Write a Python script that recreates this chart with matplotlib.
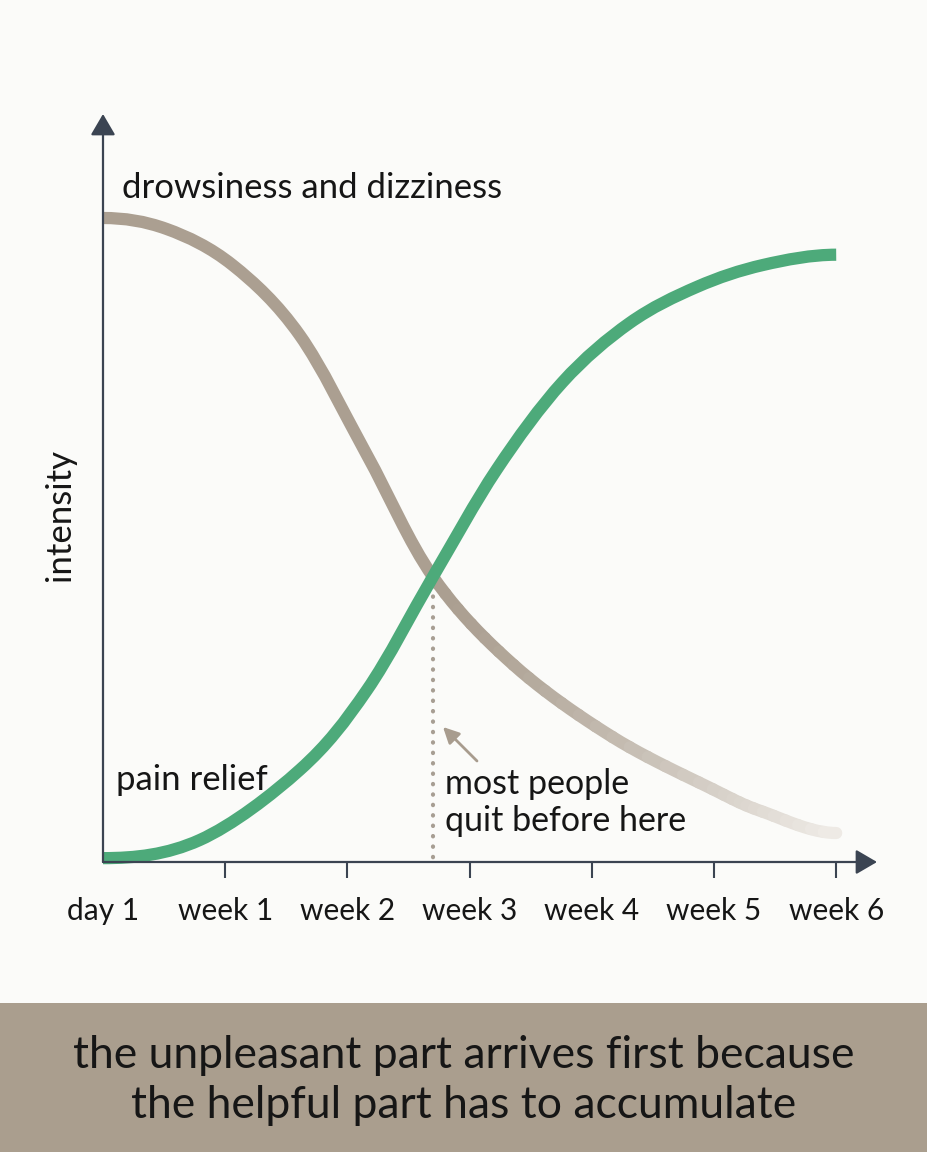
import numpy as np
import matplotlib
matplotlib.use("Agg")
import matplotlib.pyplot as plt
from matplotlib.colors import to_rgb
from matplotlib.patches import Rectangle, PathPatch
from matplotlib.path import Path

plt.rcParams['font.family'] = ['Lato', 'DejaVu Sans']

# ---- data ----
tick_labels = ['day 1', 'week 1', 'week 2', 'week 3', 'week 4', 'week 5', 'week 6']

drowsy_t = [0, 0.52, 1.06, 1.61, 2.16, 2.70, 3.36, 4.17, 4.99, 5.40, 6.0]
drowsy_v = [100, 98.3, 92.7, 81.8, 63.2, 44.3, 30.6, 19.4, 11.3, 7.8, 4.5]

relief_t = [0, 0.79, 1.61, 2.16, 2.70, 3.22, 3.76, 4.31, 4.86, 5.40, 6.0]
relief_v = [0.6, 3.4, 14.3, 26.7, 44.3, 60.9, 74.5, 83.7, 89.3, 92.7, 94.3]

quit_t = 2.70          # where the curves cross
quit_v = 44.3

# ---- style ----
BG = '#FBFBF9'
AXC = '#3B4452'
TAN = '#AB9F91'
FADE = '#EFECE7'
GREEN = '#4DAA7A'
TXT = '#161616'
BAND = '#AA9E8E'
LW = 8.8


def bezier_segments(xs, ys):
    """catmull-rom through the points, flat at both ends"""
    P = np.column_stack([xs, ys]).astype(float)
    n = len(P)
    out = []
    for i in range(n - 1):
        if i == 0:
            c1 = P[0] + np.array([(P[1][0] - P[0][0]) / 3, 0])
        else:
            c1 = P[i] + (P[i + 1] - P[i - 1]) / 6
        if i + 2 >= n:
            c2 = P[i + 1] - np.array([(P[i + 1][0] - P[i][0]) / 3, 0])
        else:
            c2 = P[i + 1] - (P[i + 2] - P[i]) / 6
        out.append((P[i], c1, c2, P[i + 1]))
    return out


def split(seg, t):
    p0, p1, p2, p3 = seg
    a, b, c = p0 + (p1 - p0) * t, p1 + (p2 - p1) * t, p2 + (p3 - p2) * t
    d, e = a + (b - a) * t, b + (c - b) * t
    m = d + (e - d) * t
    return (p0, a, d, m), (m, e, c, p3)


def sub(seg, a, b):
    if a > 0:
        seg = split(seg, a)[1]
    tb = (b - a) / (1 - a)
    if tb < 1:
        seg = split(seg, tb)[0]
    return seg


def smooth_path(segs):
    verts = [segs[0][0]]
    codes = [Path.MOVETO]
    for s in segs:
        verts += [s[1], s[2], s[3]]
        codes += [Path.CURVE4] * 3
    return Path(verts, codes)


fig = plt.figure(figsize=(9.28, 11.52), dpi=100)
fig.patch.set_facecolor(BG)

# axes placed in pixel terms: origin at (103, 862)
XS, YS = 122.2, 6.44   # px per week, px per intensity unit
ax = fig.add_axes([103 / 928, (1152 - 862) / 1152, (880 - 103) / 928, (862 - 110) / 1152])
ax.set_facecolor(BG)
ax.set_xlim(0, (880 - 103) / XS)
ax.set_ylim(0, (862 - 110) / YS)
for s in ax.spines.values():
    s.set_visible(False)
ax.set_yticks([])
ax.set_xticks(range(len(tick_labels)))
ax.set_xticklabels(tick_labels)
ax.tick_params(axis='x', direction='out', length=11.5, width=1.5, color=AXC,
               labelsize=21.5, labelcolor=TXT, pad=14)
ax.xaxis.get_major_ticks()[0].tick1line.set_visible(False)

# dotted marker under the crossing
ax.plot([quit_t, quit_t], [quit_v - 1.5, 0], color='#A79E93', lw=3,
        ls=(0, (0.1, 2.4)), dash_capstyle='round', zorder=1)

# drowsiness: solid first, fading afterwards
dsegs = bezier_segments(drowsy_t, drowsy_v)
k = drowsy_t.index(quit_t)
ax.add_patch(PathPatch(smooth_path(dsegs[:k]), fill=False, edgecolor=TAN, lw=LW,
                       capstyle='butt', joinstyle='round', clip_on=False, zorder=2))
c0, c1 = np.array(to_rgb(TAN)), np.array(to_rgb(FADE))
steps = np.linspace(0, 1, 7)
for seg in dsegs[k:]:
    for a, b in zip(steps[:-1], steps[1:]):
        piece = sub(seg, a, b)
        f = ((piece[0][0] + piece[3][0]) / 2 - 2.9) / (6.0 - 2.9)
        f = min(max(f, 0), 1) ** 1.2
        ax.add_patch(PathPatch(smooth_path([piece]), fill=False,
                               edgecolor=c0 + (c1 - c0) * f, lw=LW, capstyle='round',
                               clip_on=False, zorder=2))

# pain relief
ax.add_patch(PathPatch(smooth_path(bezier_segments(relief_t, relief_v)), fill=False,
                       edgecolor=GREEN, lw=LW, capstyle='butt', joinstyle='round',
                       clip_on=False, zorder=3))

# axes with arrow heads
arr = dict(arrowstyle='-|>,head_length=0.65,head_width=0.38', color=AXC, lw=1.6,
           shrinkA=0, shrinkB=0, mutation_scale=20)
ax.annotate('', xy=((877 - 103) / XS, 0), xytext=(0, 0), arrowprops=arr,
            annotation_clip=False, zorder=5)
ax.annotate('', xy=(0, (862 - 114) / YS), xytext=(0, 0), arrowprops=arr,
            annotation_clip=False, zorder=5)

# labels
ax.text((122 - 103) / XS, (862 - 198) / YS, 'drowsiness and dizziness', fontsize=25,
        color=TXT, ha='left', va='baseline')
ax.text((116 - 103) / XS, (862 - 790) / YS, 'pain relief', fontsize=25,
        color=TXT, ha='left', va='baseline')
ax.text((60 - 103) / XS, (862 - 515) / YS, 'intensity', fontsize=25, color=TXT,
        rotation=90, ha='center', va='center', clip_on=False)
ax.text((445 - 103) / XS, (862 - 794) / YS, 'most people', fontsize=24.5,
        color=TXT, ha='left', va='baseline')
ax.text((445 - 103) / XS, (862 - 831) / YS, 'quit before here', fontsize=24.5,
        color=TXT, ha='left', va='baseline')
ax.annotate('', xy=((443 - 103) / XS, (862 - 727) / YS),
            xytext=((477 - 103) / XS, (862 - 761) / YS),
            arrowprops=dict(arrowstyle='-|>,head_length=0.6,head_width=0.3',
                            color='#A89C8E', lw=2, shrinkA=0, shrinkB=0,
                            mutation_scale=16), zorder=4)

# bottom band
fig.add_artist(Rectangle((0, 0), 1, (1152 - 1003) / 1152, transform=fig.transFigure,
                         facecolor=BAND, edgecolor='none', zorder=0))
fig.text(0.5, (1152 - 1068) / 1152, 'the unpleasant part arrives first because',
         fontsize=32, color=TXT, ha='center', va='baseline')
fig.text(0.5, (1152 - 1118) / 1152, 'the helpful part has to accumulate',
         fontsize=32, color=TXT, ha='center', va='baseline')

fig.savefig('out.png', dpi=100, facecolor=BG)
